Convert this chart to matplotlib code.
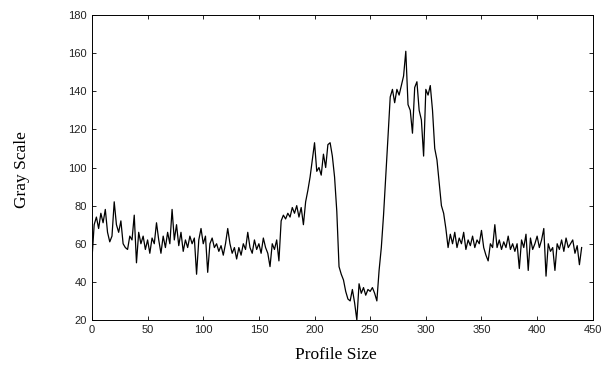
import numpy as np
import matplotlib.pyplot as plt

profile_x = np.arange(0, 441, 2)
gray = [
    52, 70, 74, 68, 76, 71, 78, 66, 61, 64, 82,
    70, 66, 72, 60, 58, 57, 64, 62, 75, 50,
    66, 60, 64, 57, 62, 55, 63, 60, 71, 62,
    55, 64, 58, 66, 60, 78, 62, 70, 59, 66,
    56, 62, 58, 64, 60, 63, 44, 62, 68, 60,
    64, 45, 60, 63, 58, 60, 56, 59, 54, 60,
    68, 60, 55, 58, 52, 58, 54, 60, 57, 66,
    58, 55, 62, 57, 60, 55, 63, 58, 55, 48,
    60, 57, 62, 51, 72, 75, 73, 76, 74, 79,
    76, 80, 74, 79, 70, 82, 88, 95, 104, 113,
    98, 100, 96, 107, 100, 112, 113, 106, 95, 77,
    48, 44, 41, 35, 31, 30, 36, 29, 20, 39,
    34, 37, 33, 36, 35, 37, 34, 30, 46, 58,
    75, 95, 116, 137, 141, 134, 141, 138, 143, 148,
    161, 133, 130, 118, 142, 145, 130, 125, 106, 141,
    138, 143, 130, 110, 104, 92, 80, 76, 68, 58,
    65, 60, 66, 58, 63, 60, 66, 57, 62, 59,
    64, 58, 62, 60, 67, 58, 54, 51, 60, 58,
    70, 58, 62, 57, 61, 58, 64, 57, 60, 56,
    60, 47, 62, 58, 65, 46, 63, 57, 60, 64,
    58, 62, 68, 43, 60, 56, 58, 46, 60, 57,
    62, 56, 63, 58, 60, 62, 55, 59, 49, 58,
]

fig = plt.figure(figsize=(6.13, 3.76), dpi=100)
ax = fig.add_axes([0.150, 0.149, 0.817, 0.811])
ax.plot(profile_x, gray, color="black", linewidth=0.9)

ax.set_xlim(0, 450)
ax.set_ylim(20, 180)
ax.set_xticks(range(0, 451, 50))
ax.set_yticks(range(20, 181, 20))
ax.tick_params(direction="in", top=True, right=True, length=3, width=0.6,
               labelsize=8, labelcolor="#222222")
for lbl in ax.get_xticklabels() + ax.get_yticklabels():
    lbl.set_fontfamily("Liberation Sans")
for s in ax.spines.values():
    s.set_linewidth(0.7)

fig.text(0.036, 0.55, "Gray Scale", rotation=90, ha="center", va="center",
         family="Liberation Serif", fontsize=12.5)
fig.text(0.548, 0.056, "Profile Size", ha="center", va="center",
         family="Liberation Serif", fontsize=12.5)

fig.savefig("out.png", dpi=100)
